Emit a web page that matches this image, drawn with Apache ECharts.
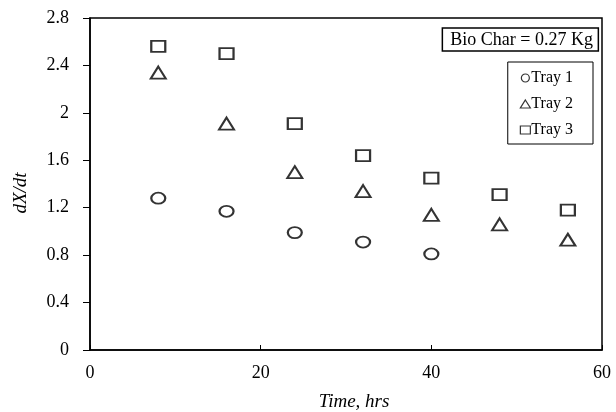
<!DOCTYPE html>
<html><head><meta charset="utf-8">
<script src="https://cdn.jsdelivr.net/npm/echarts@6/dist/echarts.min.js"></script>
<style>html,body{margin:0;padding:0;background:#fff}#c{width:616px;height:412px}</style>
</head><body><div id="c"></div>
<script>
const timeHrs = [8, 16, 24, 32, 40, 48, 56];
const tray1 = [1.28, 1.17, 0.99, 0.91, 0.81];
const tray2 = [2.34, 1.91, 1.50, 1.34, 1.14, 1.06, 0.93];
const tray3 = [2.56, 2.50, 1.91, 1.64, 1.45, 1.31, 1.18];
const seriesNames = ['Tray 1', 'Tray 2', 'Tray 3'];
const annotation = 'Bio Char = 0.27 Kg';
const yAxisTitle = 'dX/dt';
const xAxisTitle = 'Time, hrs';

const font = 'Liberation Serif, Times New Roman, serif';
const pair = (vals) => vals.map((v, i) => [timeHrs[i], v]);
const mk = (name, data, symbol, size) => ({
  name, type: 'scatter', data: pair(data), symbol, symbolSize: size,
  itemStyle: { color: '#fff', borderColor: '#000', borderWidth: 2 },
  emphasis: { disabled: true }
});

const chart = echarts.init(document.getElementById('c'), null, { renderer: 'canvas' });
chart.setOption({
  animation: false,
  backgroundColor: '#fff',
  title: {
    text: annotation, right: 17, top: 28,
    borderColor: '#000', borderWidth: 1.5,
    padding: [3, 6, 2, 8],
    textStyle: { fontFamily: font, fontSize: 18, fontWeight: 'normal', color: '#000' }
  },
  legend: {
    orient: 'vertical', right: 23, top: 62,
    data: seriesNames,
    borderColor: '#000', borderWidth: 1,
    padding: [8, 20, 6, 12],
    itemWidth: 10, itemHeight: 8, itemGap: 10,
    itemStyle: { borderWidth: 1.2 },
    textStyle: { fontFamily: font, fontSize: 16, color: '#000', padding: [0, 0, 0, -4] }
  },
  grid: {
    left: 90, right: 14, top: 18, bottom: 62,
    outerBoundsMode: 'none', containLabel: false,
    show: true, borderColor: '#000', borderWidth: 1.5
  },
  graphic: [{
    type: 'text', rotation: Math.PI / 2,
    x: 21, y: 193,
    style: { text: yAxisTitle, font: 'italic 19px ' + font, fill: '#000', align: 'center', verticalAlign: 'middle' }
  }],
  xAxis: {
    type: 'value', min: 0, max: 60, interval: 20,
    name: xAxisTitle, nameLocation: 'middle', nameGap: 42,
    nameTextStyle: { fontFamily: font, fontSize: 19, fontStyle: 'italic', color: '#000', padding: [0, 0, 0, 16] },
    axisLine: { lineStyle: { color: '#000', width: 1.5 } },
    axisTick: { inside: true, length: 5, lineStyle: { color: '#000' } },
    axisLabel: { fontFamily: font, fontSize: 18, color: '#000', margin: 14 },
    splitLine: { show: false }
  },
  yAxis: {
    type: 'value', min: 0, max: 2.8, interval: 0.4,
    axisLine: { lineStyle: { color: '#000', width: 1.5 } },
    axisTick: { inside: false, length: 7, lineStyle: { color: '#000' } },
    axisLabel: { fontFamily: font, fontSize: 18, color: '#000', margin: 21 },
    splitLine: { show: false }
  },
  series: [
    mk(seriesNames[0], tray1, 'circle', [14, 11]),
    mk(seriesNames[1], tray2, 'triangle', [15, 12]),
    mk(seriesNames[2], tray3, 'rect', [14, 11])
  ]
});
</script></body></html>
